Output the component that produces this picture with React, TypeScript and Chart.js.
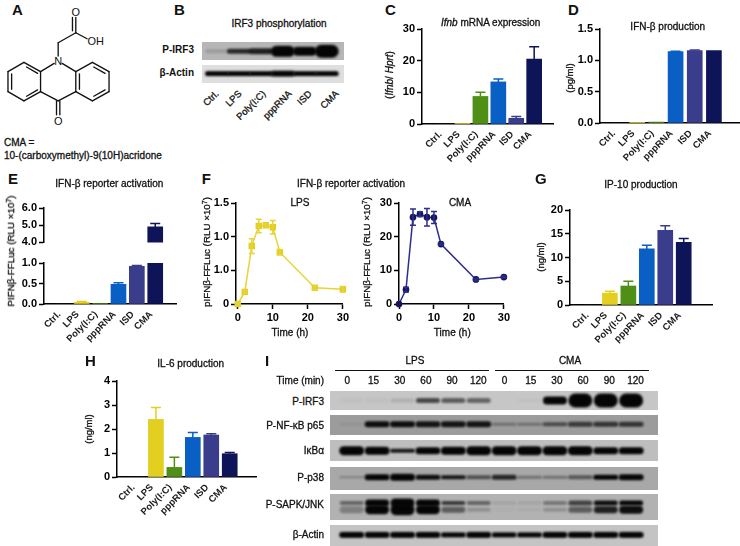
import React, { useEffect, useRef } from "react";
import { Chart, registerables } from "chart.js";

Chart.register(...registerables);

const FONT = '"Liberation Sans", Arial, sans-serif';

// ---------- data ----------
const categories = ["Ctrl.", "LPS", "Poly(I:C)", "pppRNA", "ISD", "CMA"];
const barColors = ["#1a1a1a", "#e3cf1f", "#4f8f16", "#0a5fc4", "#3a3c8c", "#0e1458"];

const ifnbMrna = [0, 0.1, 8.7, 13.3, 1.8, 20.5];
const ifnbMrnaErr = [0, 0, 1.3, 0.9, 0.6, 3.9];
const ifnProduction = [0, 0.005, 0.015, 1.14, 1.155, 1.155];
const ifnProductionErr = [0, 0, 0, 0.005, 0.01, 0];
const reporter = [0, 0.04, 0.01, 0.48, 0.92, 4.9];
const reporterErr = [0, 0.02, 0, 0.04, 0.02, 0.2];
const ip10 = [0, 2.5, 4, 11.8, 15.7, 13.2];
const ip10Err = [0, 0.4, 1, 0.8, 1, 0.8];
const il6 = [0, 2.4, 0.4, 1.65, 1.75, 0.97];
const il6Err = [0, 0.5, 0.42, 0.2, 0.05, 0.05];

const timeHours = [0, 2, 4, 6, 8, 10, 12, 22, 30];
const lpsTime = [0, 0.18, 0.86, 1.16, 1.17, 1.14, 0.77, 0.24, 0.22];
const lpsTimeErr = [0.02, 0.02, 0.11, 0.1, 0.02, 0.1, 0.04, 0.03, 0.04];
const lpsTickLabels = ["0", "1.0", "1.0", "1.5"];
const cmaTime = [0, 4.3, 25.8, 26.7, 25.8, 25.7, 17.8, 7.3, 8];
const cmaTimeErr = [0, 0.7, 2.4, 0.7, 2.6, 1.8, 0.3, 0.3, 0.3];

const timeMinutes = ["0", "15", "30", "60", "90", "120", "0", "15", "30", "60", "90", "120"];

// Western blots: band darkness and band thickness per lane
const bIrf3Dark = [0.15, 0.8, 0.85, 1, 1, 1];
const bIrf3Thick = [4, 5, 6, 11, 9, 13];
const bActinDark = [1, 1, 1, 1, 1, 1];
const bActinThick = [5, 5, 5, 6, 5, 5];

const iIrf3Dark = [0.03, 0.03, 0.12, 0.65, 0.55, 0.5, 0, 0.05, 1, 1, 1, 1];
const iIrf3Thick = [5, 5, 4, 5, 5, 5, 3, 2, 8, 14, 14, 14];
const iNfDark = [0.05, 0.95, 0.95, 0.9, 0.9, 0.9, 0.3, 0.3, 0.55, 0.65, 0.7, 0.7];
const iNfThick = [4, 6, 6, 6, 6, 6, 3, 3, 4, 5, 5, 5];
const iKbaDark = [1, 1, 0.9, 1, 1, 1, 1, 1, 1, 1, 1, 1];
const iKbaThick = [9, 8, 4, 7, 8, 9, 9, 9, 9, 9, 7, 7];
const iP38Dark = [0.25, 1, 1, 0.95, 0.9, 0.55, 0.8, 0.35, 0.35, 0.5, 1, 1];
const iP38Thick = [2, 6, 7, 5, 4, 4, 5, 3, 3, 4, 5, 6];
const iJnkTopDark = [0.45, 1, 1, 1, 0.7, 0.45, 0.1, 0.1, 0.35, 0.65, 0.95, 1];
const iJnkTopThick = [4, 7, 9, 7, 4, 4, 3, 3, 4, 5, 5, 5];
const iJnkBotDark = [0.3, 1, 1, 1, 0.5, 0.2, 0.03, 0.05, 0.2, 0.5, 0.85, 0.95];
const iJnkBotThick = [7, 9, 11, 9, 6, 4, 3, 3, 4, 6, 7, 8];
const iActinDark = [1, 1, 1, 1, 1, 1, 1, 1, 1, 1, 1, 1];
const iActinThick = [6, 6, 6, 6, 5, 6, 5, 5, 6, 6, 6, 6];

// ---------- helpers ----------
const AXW = 34;
const PADT = 10;
const PADR = 8;
const XH = 52;

type Rect = { l: number; t: number; r: number; b: number };

function place(c: HTMLCanvasElement, rect: Rect, axw: number, xh: number) {
  const w = Math.round(rect.r - rect.l + axw + PADR);
  const h = Math.round(rect.b - rect.t + PADT + xh);
  c.width = w;
  c.height = h;
  c.style.position = "absolute";
  c.style.left = rect.l - axw + "px";
  c.style.top = rect.t - PADT + "px";
  c.style.width = w + "px";
  c.style.height = h + "px";
}

function errorPlugin(errs: number[], both: boolean, cap: number, colors: (i: number) => string) {
  return {
    id: "errs",
    afterDatasetsDraw(chart: any) {
      const { ctx, scales } = chart;
      const ds = chart.data.datasets[0].data;
      const y = scales.y;
      ctx.save();
      ctx.lineWidth = 1.5;
      errs.forEach((e: number, i: number) => {
        if (!e) return;
        const v = ds[i].y;
        if (v + e > y.max || v + e < y.min) return;
        const px = scales.x.getPixelForValue(ds[i].x);
        const top = y.getPixelForValue(v + e);
        const bot = y.getPixelForValue(both ? v - e : v);
        ctx.strokeStyle = colors(i);
        ctx.beginPath();
        ctx.moveTo(px, bot);
        ctx.lineTo(px, top);
        ctx.moveTo(px - cap, top);
        ctx.lineTo(px + cap, top);
        if (both) {
          ctx.moveTo(px - cap, bot);
          ctx.lineTo(px + cap, bot);
        }
        ctx.stroke();
      });
      ctx.restore();
    },
  };
}

function yAxis(min: number, max: number, step: number, cb: (v: number, i: number) => string, axw = AXW) {
  return {
    type: "linear",
    min,
    max,
    z: 1,
    afterFit: (s: any) => {
      s.width = axw;
    },
    grid: { drawOnChartArea: false, drawTicks: true, tickLength: 5, tickWidth: 1.5, tickColor: "#000" },
    border: { color: "#000", width: 1.5 },
    ticks: {
      stepSize: step,
      color: "#000",
      padding: 2,
      font: { family: FONT, size: 11, weight: "bold" },
      callback: (v: number, i: number) => cb(v, i),
    },
  };
}

function barChart(
  canvas: HTMLCanvasElement,
  rect: Rect,
  lane0: number,
  step: number,
  values: number[],
  errs: number[],
  ymin: number,
  ymax: number,
  ystep: number,
  fmt: (v: number) => string,
  withX = true
) {
  const xh = withX ? XH : 0;
  place(canvas, rect, AXW, xh);
  return new Chart(canvas, {
    type: "bar",
    data: {
      datasets: [
        {
          data: values.map((y, x) => ({ x, y })),
          backgroundColor: barColors,
          barThickness: 15,
        },
      ],
    } as any,
    plugins: [errorPlugin(errs, false, 5, (i) => barColors[i])],
    options: {
      animation: false,
      responsive: false,
      devicePixelRatio: 1,
      layout: { padding: { top: PADT, right: PADR, left: 0, bottom: 0 } },
      plugins: { legend: { display: false }, title: { display: false }, tooltip: { enabled: false } },
      scales: {
        x: {
          type: "linear",
          display: withX,
          min: (rect.l - lane0) / step,
          max: (rect.r - lane0) / step,
          z: 1,
          afterFit: (s: any) => {
            s.height = xh;
          },
          grid: { drawOnChartArea: false, drawTicks: false },
          border: { color: "#000", width: 1.5 },
          ticks: {
            stepSize: 1,
            includeBounds: false,
            autoSkip: false,
            minRotation: 45,
            maxRotation: 45,
            padding: 5,
            labelOffset: -4,
            color: "#1a1a1a",
            font: { family: FONT, size: 9.5, weight: "bold" },
            callback: (v: number) => categories[v] ?? "",
          },
        },
        y: yAxis(ymin, ymax, ystep, (v) => fmt(v)),
      },
    } as any,
  });
}

function lineChart(
  canvas: HTMLCanvasElement,
  rect: Rect,
  xmin: number,
  values: number[],
  errs: number[],
  ymax: number,
  ystep: number,
  fmt: (v: number, i: number) => string,
  lineColor: string,
  pointColor: string,
  pointStyle: string,
  radius: number
) {
  place(canvas, rect, AXW, 30);
  return new Chart(canvas, {
    type: "line",
    data: {
      datasets: [
        {
          data: timeHours.map((x, i) => ({ x, y: values[i] })),
          borderColor: lineColor,
          borderWidth: 1.5,
          backgroundColor: pointColor,
          pointBackgroundColor: pointColor,
          pointBorderColor: pointColor,
          pointStyle,
          pointRadius: radius,
          tension: 0,
          clip: false,
        },
      ],
    } as any,
    plugins: [errorPlugin(errs, true, 3, () => lineColor)],
    options: {
      animation: false,
      responsive: false,
      devicePixelRatio: 1,
      layout: { padding: { top: PADT, right: PADR, left: 0, bottom: 0 } },
      plugins: { legend: { display: false }, tooltip: { enabled: false } },
      scales: {
        x: {
          type: "linear",
          min: xmin,
          max: 30,
          z: 0,
          afterFit: (s: any) => {
            s.height = 30;
          },
          grid: { drawOnChartArea: false, drawTicks: true, tickLength: 5, tickWidth: 1.5, tickColor: "#000" },
          border: { color: "#000", width: 1.5 },
          ticks: {
            stepSize: 10,
            includeBounds: false,
            maxRotation: 0,
            minRotation: 0,
            padding: 2,
            color: "#000",
            font: { family: FONT, size: 11, weight: "bold" },
          },
        },
        y: yAxis(0, ymax, ystep, fmt),
      },
    } as any,
  });
}

const spriteCache = new Map<string, HTMLCanvasElement>();
function bandSprite(dark: number, thick: number, width: number) {
  const key = dark + "|" + thick + "|" + width;
  const hit = spriteCache.get(key);
  if (hit) return hit;
  const c = document.createElement("canvas");
  c.width = width + 10;
  c.height = thick + 10;
  const g = c.getContext("2d")!;
  g.filter = "blur(0.9px)";
  g.fillStyle = `rgba(5,5,5,${dark})`;
  g.beginPath();
  g.roundRect((c.width - width) / 2, (c.height - thick) / 2, width, thick, thick / 2);
  g.fill();
  spriteCache.set(key, c);
  return c;
}

type BandRow = { row: number; dark: number[]; thick: number[] };

function blotChart(
  canvas: HTMLCanvasElement,
  rect: Rect,
  lane0: number,
  step: number,
  bandWidth: number,
  background: string,
  rows: BandRow[]
) {
  const w = Math.round(rect.r - rect.l);
  const h = Math.round(rect.b - rect.t);
  canvas.width = w;
  canvas.height = h;
  canvas.style.position = "absolute";
  canvas.style.left = rect.l + "px";
  canvas.style.top = rect.t + "px";
  canvas.style.width = w + "px";
  canvas.style.height = h + "px";
  canvas.style.background = background;
  return new Chart(canvas, {
    type: "scatter",
    data: {
      datasets: rows.map((r) => ({
        data: r.dark.map((_, x) => ({ x, y: r.row })),
        showLine: false,
        pointRadius: 1,
        clip: false,
        pointStyle: (ctx: any) => bandSprite(r.dark[ctx.dataIndex], r.thick[ctx.dataIndex], bandWidth),
      })),
    } as any,
    options: {
      animation: false,
      responsive: false,
      devicePixelRatio: 1,
      plugins: { legend: { display: false }, tooltip: { enabled: false } },
      scales: {
        x: { type: "linear", display: false, min: (rect.l - lane0) / step, max: (rect.r - lane0) / step },
        y: { type: "linear", display: false, min: 0, max: 1 },
      },
    } as any,
  });
}

// ---------- DOM text ----------
function T(props: {
  x: number;
  y: number;
  size?: number;
  bold?: boolean;
  anchor?: "start" | "middle" | "end";
  rotate?: number;
  children: React.ReactNode;
}) {
  const { x, y, size = 10, bold, anchor = "middle", rotate = 0, children } = props;
  const tx = anchor === "middle" ? "-50%" : anchor === "end" ? "-100%" : "0";
  return (
    <div
      style={{
        position: "absolute",
        left: x,
        top: y,
        whiteSpace: "nowrap",
        fontFamily: FONT,
        fontSize: size,
        fontWeight: bold ? 700 : 400,
        lineHeight: 1,
        color: "#111",
        WebkitTextStroke: bold ? undefined : "0.3px #111",
        transformOrigin: anchor === "end" ? "100% 50%" : "50% 50%",
        transform: `translate(${tx}, -50%) rotate(${rotate}deg)`,
      }}
    >
      {children}
    </div>
  );
}

function Molecule() {
  const s = { stroke: "#111", strokeWidth: 4, fill: "none", strokeLinecap: "round" as const };
  const segs = [
    [228, 52, 228, 98],
    [218, 52, 218, 92],
    [228, 98, 262, 116],
    [228, 98, 175, 128],
    [175, 128, 175, 168],
    [163, 190, 122, 215],
    [187, 190, 228, 215],
    [122, 215, 72, 187],
    [72, 187, 24, 215],
    [24, 215, 24, 275],
    [24, 275, 72, 303],
    [72, 303, 122, 275],
    [122, 275, 122, 215],
    [80, 201, 113, 220],
    [35, 222, 35, 268],
    [80, 289, 113, 270],
    [228, 215, 278, 187],
    [278, 187, 328, 215],
    [328, 215, 328, 275],
    [328, 275, 278, 303],
    [278, 303, 228, 275],
    [228, 275, 228, 215],
    [239, 222, 239, 268],
    [282, 201, 316, 220],
    [282, 289, 316, 270],
    [122, 275, 175, 303],
    [228, 275, 175, 303],
    [170, 303, 170, 345],
    [180, 303, 180, 345],
  ];
  return (
    <svg
      width={123}
      height={130}
      viewBox="0 0 370 390"
      style={{ position: "absolute", left: 0, top: 0 }}
    >
      {segs.map((p, i) => (
        <line key={i} x1={p[0]} y1={p[1]} x2={p[2]} y2={p[3]} {...s} />
      ))}
      <g fontFamily={FONT} fontSize={33} fill="#111" textAnchor="middle" dominantBaseline="central">
        <text x={228} y={37}>O</text>
        <text x={288} y={122}>OH</text>
        <text x={175} y={182}>N</text>
        <text x={175} y={362}>O</text>
      </g>
    </svg>
  );
}

const Sup7 = () => <span style={{ fontSize: 7, verticalAlign: "3px", lineHeight: 0 }}>7</span>;

export default function App() {
  const refs = useRef<Record<string, HTMLCanvasElement | null>>({});
  const r = (k: string) => (el: HTMLCanvasElement | null) => {
    refs.current[k] = el;
  };

  useEffect(() => {
    const c = refs.current as Record<string, HTMLCanvasElement>;
    const int = (v: number) => String(v);
    const dec1 = (v: number) => v.toFixed(1);
    const iLane0 = 347.5;
    const iStep = 26.2;
    const iL = 330.3;
    const iR = 658.3;
    const charts = [
      barChart(c.C, { l: 422, t: 29, r: 553, b: 124 }, 436, 21.5, ifnbMrna, ifnbMrnaErr, 0, 30, 10, int),
      barChart(c.D, { l: 600, t: 29, r: 740, b: 122.7 }, 607.7, 23, ifnProduction, ifnProductionErr, 0, 1.5, 0.5, dec1),
      barChart(c.E1, { l: 44.3, t: 208.3, r: 176, b: 251.7 }, 54.3, 22, reporter, reporterErr, 4, 6, 1, dec1, false),
      barChart(c.E2, { l: 44.3, t: 262.7, r: 176, b: 304 }, 54.3, 22, reporter, reporterErr, 0, 1, 0.5, dec1),
      lineChart(c.F1, { l: 236, t: 203.3, r: 342.7, b: 304 }, -0.5, lpsTime, lpsTimeErr, 1.5, 0.5, (_v, i) => lpsTickLabels[i], "#e8d338", "#e3cf1f", "rect", 3.5),
      lineChart(c.F2, { l: 399.4, t: 203.3, r: 504.3, b: 304.3 }, 0, cmaTime, cmaTimeErr, 30, 10, int, "#2c2f8a", "#14145f", "circle", 2.6),
      barChart(c.G, { l: 570, t: 210, r: 711.7, b: 305 }, 581.5, 22.1, ip10, ip10Err, 0, 20, 5, int),
      barChart(c.H, { l: 117.3, t: 381, r: 256.7, b: 476.7 }, 128, 22.2, il6, il6Err, 0, 4, 1, int),
      blotChart(c.B1, { l: 202.3, t: 42.3, r: 344.3, b: 60 }, 213, 23.6, 24, "#b6b6b6", [{ row: 0.47, dark: bIrf3Dark, thick: bIrf3Thick }]),
      blotChart(c.B2, { l: 202.3, t: 65, r: 344.3, b: 83.3 }, 213, 23.6, 24, "#dedede", [{ row: 0.55, dark: bActinDark, thick: bActinThick }]),
      blotChart(c.I1, { l: iL, t: 390.7, r: iR, b: 410 }, iLane0, iStep, 24, "#c6c6c6", [{ row: 0.5, dark: iIrf3Dark, thick: iIrf3Thick }]),
      blotChart(c.I2, { l: iL, t: 415.3, r: iR, b: 435 }, iLane0, iStep, 25, "#9c9c9c", [{ row: 0.58, dark: iNfDark, thick: iNfThick }]),
      blotChart(c.I3, { l: iL, t: 439.7, r: iR, b: 461 }, iLane0, iStep, 25, "#bebebe", [{ row: 0.48, dark: iKbaDark, thick: iKbaThick }]),
      blotChart(c.I4, { l: iL, t: 466.7, r: iR, b: 489.7 }, iLane0, iStep, 25, "#a8a8a8", [{ row: 0.6, dark: iP38Dark, thick: iP38Thick }]),
      blotChart(c.I5, { l: iL, t: 494.3, r: iR, b: 520 }, iLane0, iStep, 24, "#b2b2b2", [
        { row: 0.75, dark: iJnkTopDark, thick: iJnkTopThick },
        { row: 0.33, dark: iJnkBotDark, thick: iJnkBotThick },
      ]),
      blotChart(c.I6, { l: iL, t: 525, r: iR, b: 546 }, iLane0, iStep, 25, "#c4c4c4", [{ row: 0.56, dark: iActinDark, thick: iActinThick }]),
    ];
    return () => charts.forEach((ch) => ch.destroy());
  }, []);

  const canvases = ["C", "D", "E1", "E2", "F1", "F2", "G", "H", "B1", "B2", "I1", "I2", "I3", "I4", "I5", "I6"];
  const bLabelX = [216.7, 240, 264.3, 290, 310, 336.7];
  const iLaneX = timeMinutes.map((_, i) => 347.3 + i * 26.2);

  return (
    <div
      style={{
        position: "absolute",
        left: 0,
        top: 0,
        width: 740,
        height: 546,
        overflow: "hidden",
        background: "#fff",
        filter: "blur(0.35px)",
      }}
    >
      <Molecule />
      {canvases.map((k) => (
        <canvas key={k} ref={r(k)} />
      ))}

      <T x={12} y={9} size={15} bold anchor="start">A</T>
      <T x={174} y={9} size={15} bold anchor="start">B</T>
      <T x={385} y={9} size={15} bold anchor="start">C</T>
      <T x={568} y={9} size={15} bold anchor="start">D</T>
      <T x={8} y={178} size={15} bold anchor="start">E</T>
      <T x={201.7} y={178} size={15} bold anchor="start">F</T>
      <T x={535} y={178} size={15} bold anchor="start">G</T>
      <T x={85} y={360} size={15} bold anchor="start">H</T>
      <T x={265} y={360} size={15} bold anchor="start">I</T>

      <T x={4} y={142.7} size={10} anchor="start">CMA =</T>
      <T x={4} y={155.7} size={10} anchor="start">10-(carboxymethyl)-9(10H)acridone</T>

      <T x={279} y={23.7}>IRF3 phosphorylation</T>
      <T x={194} y={50} anchor="end" size={10} bold>P-IRF3</T>
      <T x={194} y={73} anchor="end" size={10} bold>β-Actin</T>
      {categories.map((c, i) => (
        <T key={c} x={bLabelX[i]} y={92} size={9.5} anchor="end" rotate={-45}>{c}</T>
      ))}

      <T x={490.7} y={22.7}><i>Ifnb</i> mRNA expression</T>
      <T x={390} y={75} rotate={-90} size={10}>(<i>Ifnb</i>/ <i>Hprt</i>)</T>

      <T x={667.7} y={27.3}>IFN-β production</T>
      <T x={570} y={78} rotate={-90} size={9.5}>(pg/ml)</T>

      <T x={109.3} y={184.3}>IFN-β reporter activation</T>
      <T x={11} y={251} rotate={-90} size={9.8}>PIFNβ-FFLuc (RLU ×10<Sup7 />)</T>

      <T x={351} y={184.3}>IFN-β reporter activation</T>
      <T x={300} y={202.7} size={10}>LPS</T>
      <T x={460} y={202.7} size={10}>CMA</T>
      <T x={206.7} y={252} rotate={-90} size={9.8}>pIFNβ-FFLuc (RLU ×10<Sup7 />)</T>
      <T x={366.7} y={252} rotate={-90} size={9.8}>pIFNβ-FFLuc (RLU ×10<Sup7 />)</T>
      <T x={290} y={332.7} size={10}>Time (h)</T>
      <T x={452.3} y={332.7} size={10}>Time (h)</T>

      <T x={641} y={185}>IP-10 production</T>
      <T x={540.7} y={256.7} rotate={-90} size={9.5}>(ng/ml)</T>

      <T x={190.7} y={364}>IL-6 production</T>
      <T x={89.3} y={429} rotate={-90} size={9.5}>(ng/ml)</T>

      <T x={415} y={360.7} size={10}>LPS</T>
      <T x={570} y={360.7} size={10}>CMA</T>
      <div style={{ position: "absolute", left: 335, top: 369.5, width: 154, height: 1, background: "#111" }} />
      <div style={{ position: "absolute", left: 494.7, top: 369.5, width: 154, height: 1, background: "#111" }} />
      <T x={324} y={381} anchor="end" size={10}>Time (min)</T>
      {timeMinutes.map((m, i) => (
        <T key={i} x={iLaneX[i]} y={381} size={10}>{m}</T>
      ))}
      <T x={324} y={402.3} anchor="end" size={10}>P-IRF3</T>
      <T x={324} y={426} anchor="end" size={10}>P-NF-κB p65</T>
      <T x={324} y={451} anchor="end" size={10}>IκBα</T>
      <T x={324} y={478.3} anchor="end" size={10}>P-p38</T>
      <T x={324} y={505} anchor="end" size={10}>P-SAPK/JNK</T>
      <T x={324} y={535} anchor="end" size={10}>β-Actin</T>
    </div>
  );
}
